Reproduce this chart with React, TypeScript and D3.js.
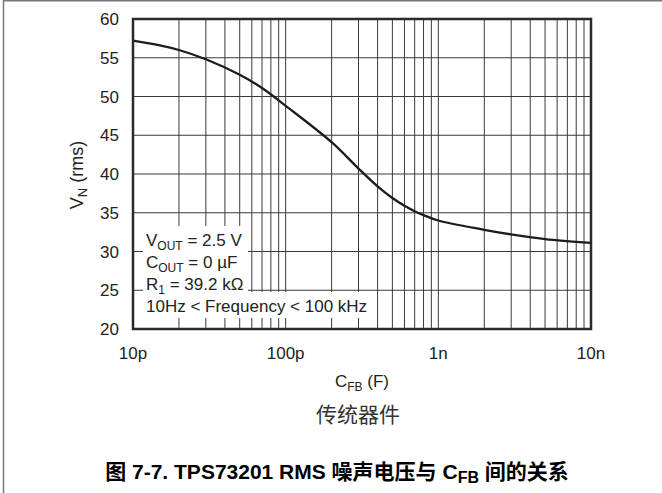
import React from 'react';
import * as d3 from 'd3';

// C_FB values (farads) and RMS noise (µV)
const capacitanceF = [1e-11, 1.5e-11, 2e-11, 3e-11, 5e-11, 7e-11, 1e-10, 2e-10, 3e-10, 4e-10, 5e-10, 6e-10, 7e-10, 8e-10, 1e-9, 2e-9, 3e-9, 5e-9, 1e-8];
const noiseRms = [57.2, 56.6, 56.0, 54.8, 52.8, 51.1, 48.8, 44.1, 40.7, 38.4, 36.9, 35.9, 35.2, 34.7, 34.0, 32.8, 32.2, 31.6, 31.1];

const xTickValues = [1e-11, 1e-10, 1e-9, 1e-8];
const xTickLabels = ['10p', '100p', '1n', '10n'];
const yTickValues = [20, 25, 30, 35, 40, 45, 50, 55, 60];

const W = 662;
const H = 493;
const M = { left: 133, right: 591, top: 19, bottom: 329 };
const FONT = '"Liberation Sans", Arial, Helvetica, sans-serif';
const CJK = '"Liberation Sans", "Noto Sans CJK SC", sans-serif';

export default function App() {
  const x = d3.scaleLog().domain([1e-11, 1e-8]).range([M.left, M.right]);
  const y = d3.scaleLinear().domain([20, 60]).range([M.bottom, M.top]);

  const minor: number[] = [];
  for (let e = -11; e < -8; e++) {
    for (let k = 2; k <= 9; k++) minor.push(k * Math.pow(10, e));
  }

  const data = capacitanceF.map((c, i) => [c, noiseRms[i]] as [number, number]);
  const line = d3
    .line<[number, number]>()
    .x((d) => x(d[0]))
    .y((d) => y(d[1]))
    .curve(d3.curveCatmullRom.alpha(0.5));

  const grid = '#3a3a3a';
  const legendX = M.left + 13;

  return (
    <svg width={W} height={H} style={{ position: 'absolute', left: 0, top: 0 }} fontFamily={FONT}>
      <rect x={0} y={0} width={W} height={H} fill="#fff" />
      {/* outer frame */}
      <path d={`M3.5,${H} V0.75 H${W}`} fill="none" stroke="#777" strokeWidth={1.5} />

      {/* grid */}
      {[...xTickValues, ...minor].map((v, i) => (
        <line key={'vx' + i} x1={x(v)} x2={x(v)} y1={M.top} y2={M.bottom} stroke={grid} strokeWidth={1} />
      ))}
      {yTickValues.map((v) => (
        <line key={'hy' + v} x1={M.left} x2={M.right} y1={y(v)} y2={y(v)} stroke={grid} strokeWidth={1} />
      ))}

      {/* legend backgrounds */}
      <rect x={143} y={226} width={105} height={66} fill="#fff" />
      <rect x={143} y={292} width={227} height={26} fill="#fff" />

      {/* curve */}
      <path d={line(data) || ''} fill="none" stroke="#1c1c1c" strokeWidth={2.3} strokeLinejoin="round" />

      {/* plot border */}
      <rect x={M.left} y={M.top} width={M.right - M.left} height={M.bottom - M.top} fill="none" stroke="#2a2a2a" strokeWidth={2.5} />

      {/* y tick labels */}
      {yTickValues.map((v) => (
        <text key={'yt' + v} x={119} y={y(v) + 6} textAnchor="end" fontSize={17} fill="#222">
          {v}
        </text>
      ))}
      {/* x tick labels */}
      {xTickValues.map((v, i) => (
        <text key={'xt' + i} x={x(v)} y={359} textAnchor="middle" fontSize={17} fill="#222">
          {xTickLabels[i]}
        </text>
      ))}

      {/* legend text */}
      <g fontSize={17} fill="#222">
        <text x={legendX} y={246}>
          V<tspan dy={4} fontSize={12}>OUT</tspan>
          <tspan dy={-4}> = 2.5 V</tspan>
        </text>
        <text x={legendX} y={268}>
          C<tspan dy={4} fontSize={12}>OUT</tspan>
          <tspan dy={-4}> = 0 µF</tspan>
        </text>
        <text x={legendX} y={290}>
          R<tspan dy={4} fontSize={12}>1</tspan>
          <tspan dy={-4}> = 39.2 kΩ</tspan>
        </text>
        <text x={legendX} y={311.5}>10Hz &lt; Frequency &lt; 100 kHz</text>
      </g>

      {/* y axis label */}
      <text transform={`translate(83,175) rotate(-90)`} textAnchor="middle" fontSize={18} fill="#222">
        V<tspan dy={4} fontSize={13}>N</tspan>
        <tspan dy={-4}> (rms)</tspan>
      </text>

      {/* x axis label */}
      <text x={(M.left + M.right) / 2} y={387} textAnchor="middle" fontSize={17} fill="#222">
        C<tspan dy={4} fontSize={12}>FB</tspan>
        <tspan dy={-4}> (F)</tspan>
      </text>

      <text x={358} y={422} textAnchor="middle" fontSize={21} fill="#333" fontFamily={CJK}>
        传统器件
      </text>

      {/* caption */}
      <text x={337} y={479} textAnchor="middle" fontSize={21} fontWeight="bold" fill="#000" fontFamily={CJK}>
        图 7-7. TPS73201 RMS 噪声电压与 C<tspan dy={4} fontSize={16}>FB</tspan>
        <tspan dy={-4}> 间的关系</tspan>
      </text>
    </svg>
  );
}
